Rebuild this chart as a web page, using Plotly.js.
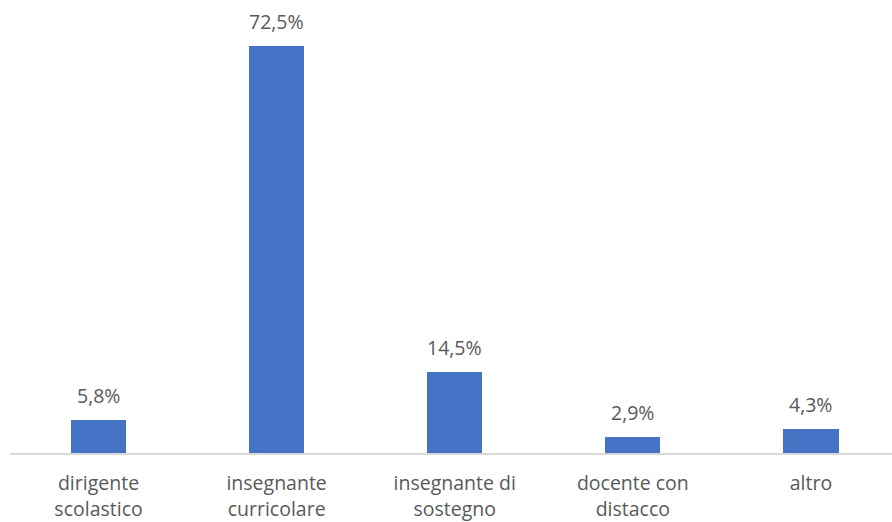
<!DOCTYPE html>
<html>
<head>
<meta charset="utf-8">
<script src="https://cdn.plot.ly/plotly-3.0.1.min.js"></script>
<style>html,body{margin:0;padding:0;background:#fff;}#chart{width:892px;height:522px;}</style>
</head>
<body>
<div id="chart"></div>
<script>
const categories = ["dirigente<br>scolastico", "insegnante<br>curricolare", "insegnante di<br>sostegno", "docente con<br>distacco", "altro"];
const values = [5.8, 72.5, 14.5, 2.9, 4.3];
const valueLabels = ["5,8%", "72,5%", "14,5%", "2,9%", "4,3%"];

const FONT = "Open Sans, Noto Sans, sans-serif";
const idx = categories.map((c, i) => i);

const trace = {
  type: "bar",
  x: idx,
  y: values,
  width: 0.31,
  marker: {color: "#4472C4"},
  hoverinfo: "skip"
};

const annotations = idx.map(i => ({
  x: i, y: values[i], xref: "x", yref: "y",
  text: valueLabels[i], showarrow: false,
  yanchor: "bottom", yshift: 9,
  font: {family: FONT, size: 19.5, color: "#595959"}
}));

const layout = {
  width: 892, height: 522,
  margin: {l: 10, r: 0, t: 0, b: 69},
  paper_bgcolor: "#fff", plot_bgcolor: "#fff",
  showlegend: false,
  bargap: 0,
  xaxis: {
    range: [-0.497, 4.455],
    tickmode: "array", tickvals: idx, ticktext: categories,
    showgrid: false, zeroline: false,
    showline: true, linecolor: "#d9d9d9", linewidth: 2,
    ticks: "", ticklabelstandoff: 12,
    tickfont: {family: FONT, size: 19.5, color: "#595959"},
    fixedrange: true
  },
  yaxis: {
    range: [0, 80.7],
    visible: false, showgrid: false, zeroline: false,
    fixedrange: true
  },
  annotations: annotations
};

Plotly.newPlot("chart", [trace], layout, {displayModeBar: false, staticPlot: true});
</script>
</body>
</html>
